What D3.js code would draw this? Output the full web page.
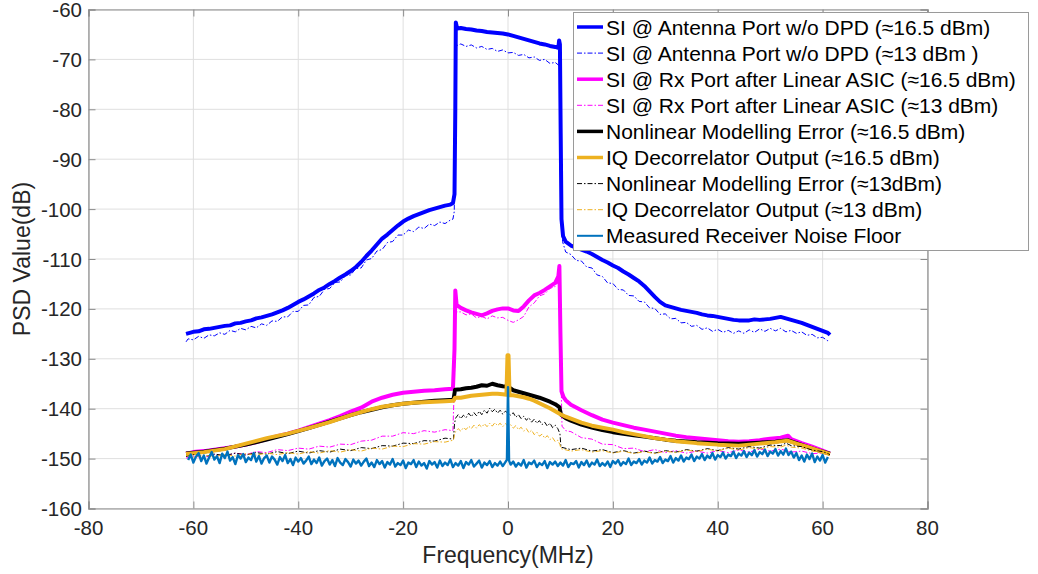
<!DOCTYPE html>
<html>
<head>
<meta charset="utf-8">
<script src="https://cdn.jsdelivr.net/npm/d3@7"></script>
<style>
  html, body { margin: 0; padding: 0; background: #ffffff; }
  svg { display: block; font-family: "Liberation Sans", Arial, Helvetica, sans-serif; }
</style>
</head>
<body>
<svg id="chart" width="1038" height="574"></svg>
<script>
// Axis ticks
const X_TICKS = [-80, -60, -40, -20, 0, 20, 40, 60, 80];
const Y_TICKS = [-160, -150, -140, -130, -120, -110, -100, -90, -80, -70, -60];

// Legend labels (plot order)
const LABELS = [
  "SI @ Antenna Port w/o DPD (\u224816.5 dBm)",
  "SI @ Antenna Port w/o DPD (\u224813 dBm )",
  "SI @ Rx Port after Linear ASIC (\u224816.5 dBm)",
  "SI @ Rx Port after Linear ASIC (\u224813 dBm)",
  "Nonlinear Modelling Error (\u224816.5 dBm)",
  "IQ Decorrelator Output (\u224816.5 dBm)",
  "Nonlinear Modelling Error (\u224813dBm)",
  "IQ Decorrelator Output (\u224813 dBm)",
  "Measured Receiver Noise Floor"
];

// PSD traces: [frequency MHz, PSD dB]
const siAnt165 = [[-61.4,-125.0],[-60,-124.6],[-59,-124.5],[-58,-124.1],[-57,-124.0],[-56,-123.8],[-55,-123.6],[-54,-123.4],[-53,-123.3],[-52,-122.9],[-51,-122.8],[-50,-122.5],[-49,-122.3],[-48,-121.9],[-47,-121.7],[-46,-121.4],[-45,-121.1],[-44,-120.7],[-43,-120.3],[-42,-119.8],[-41,-119.2],[-40,-118.6],[-39,-118.1],[-38,-117.5],[-37,-116.9],[-36,-116.2],[-35,-115.7],[-34,-115.0],[-33,-114.4],[-32,-113.7],[-31,-113.1],[-30,-112.4],[-29,-111.6],[-28,-110.6],[-27,-109.4],[-26,-108.3],[-25,-107.1],[-24,-105.9],[-23,-105.1],[-22,-104.2],[-21,-103.3],[-20,-102.5],[-19,-101.9],[-18,-101.4],[-17,-101.0],[-16,-100.6],[-15,-100.2],[-14,-99.9],[-13,-99.6],[-12,-99.3],[-11,-99.1],[-10.5,-98.8],[-10.2,-97.0],[-10.05,-80.0],[-9.95,-62.6],[-9.7,-63.8],[-9,-63.7],[-8,-63.9],[-7,-64.0],[-6,-64.2],[-5,-64.3],[-4,-64.5],[-3,-64.6],[-2,-64.7],[-1,-64.8],[0,-65.0],[1,-65.3],[2,-65.6],[3,-65.9],[4,-66.2],[5,-66.5],[6,-66.8],[7,-67.0],[8,-67.3],[9,-67.5],[9.6,-67.7],[9.75,-66.2],[9.9,-67.0],[10.05,-85.0],[10.2,-102.0],[10.5,-105.4],[11,-106.5],[12,-107.3],[13,-107.7],[14,-108.1],[15,-108.5],[16,-109.0],[17,-109.6],[18,-110.2],[19,-110.7],[20,-111.3],[21,-111.8],[22,-112.5],[23,-113.1],[24,-113.8],[25,-114.5],[26,-115.4],[27,-116.5],[28,-117.6],[29,-118.6],[30,-119.3],[31,-119.6],[32,-119.9],[33,-120.2],[34,-120.4],[35,-120.6],[36,-120.8],[37,-121.1],[38,-121.3],[39,-121.4],[40,-121.6],[41,-121.8],[42,-122.0],[43,-122.2],[44,-122.3],[45,-122.3],[46,-122.3],[47,-122.1],[48,-122.2],[49,-122.1],[50,-122.0],[51,-121.8],[52,-121.6],[53,-121.9],[54,-122.2],[55,-122.5],[56,-122.8],[57,-123.2],[58,-123.6],[59,-124.0],[60,-124.4],[61,-124.8],[61.4,-125.2]];

const siAnt13 = [[-61.4,-126.6],[-61,-126.0],[-60,-126.2],[-59,-125.5],[-58,-125.9],[-57,-125.2],[-56,-125.4],[-55,-124.8],[-54,-125.1],[-53,-124.3],[-52,-124.6],[-51,-123.9],[-50,-124.2],[-49,-123.5],[-48,-123.8],[-47,-123.0],[-46,-123.3],[-45,-122.4],[-44,-122.5],[-43,-121.6],[-42,-121.6],[-41,-120.5],[-40,-120.5],[-39,-119.3],[-38,-119.2],[-37,-117.7],[-36,-117.5],[-35,-116.1],[-34,-115.9],[-33,-114.7],[-32,-114.6],[-31,-113.3],[-30,-113.2],[-29,-111.9],[-28,-111.8],[-27,-110.2],[-26,-109.9],[-25,-108.4],[-24,-108.1],[-23,-106.7],[-22,-106.5],[-21,-105.2],[-20,-105.2],[-19,-104.2],[-18,-104.5],[-17,-103.6],[-16,-103.9],[-15,-103.0],[-14,-103.3],[-13,-102.6],[-12,-102.9],[-11,-102.2],[-10.5,-102.0],[-10.25,-100.5],[-10.1,-84.0],[-9.95,-67.3],[-9,-66.9],[-8,-67.4],[-7,-67.1],[-6,-67.7],[-5,-67.4],[-4,-68.0],[-3,-67.8],[-2,-68.4],[-1,-68.1],[0,-68.7],[1,-68.6],[2,-69.2],[3,-69.0],[4,-69.7],[5,-69.5],[6,-70.2],[7,-70.0],[8,-70.8],[9,-70.6],[9.8,-71.3],[10.1,-90.0],[10.4,-106.5],[11,-108.6],[12,-109.1],[13,-110.3],[14,-110.4],[15,-111.6],[16,-111.8],[17,-113.2],[18,-113.5],[19,-114.8],[20,-114.9],[21,-116.1],[22,-116.2],[23,-117.3],[24,-117.4],[25,-118.5],[26,-118.6],[27,-119.8],[28,-119.9],[29,-121.1],[30,-121.0],[31,-122.0],[32,-121.9],[33,-122.8],[34,-122.7],[35,-123.5],[36,-123.3],[37,-124.1],[38,-123.8],[39,-124.5],[40,-124.1],[41,-124.7],[42,-124.3],[43,-124.9],[44,-124.4],[45,-124.9],[46,-124.2],[47,-124.7],[48,-124.0],[49,-124.5],[50,-123.9],[51,-124.4],[52,-123.9],[53,-124.6],[54,-124.3],[55,-124.9],[56,-124.6],[57,-125.3],[58,-125.1],[59,-125.8],[60,-125.7],[61,-126.4],[61.4,-126.3]];

const siRx165 = [[-61.4,-149.0],[-60,-148.7],[-58,-148.5],[-56,-148.2],[-54,-147.9],[-52,-147.6],[-50,-147.2],[-48,-146.7],[-46,-146.1],[-44,-145.5],[-42,-145.0],[-40,-144.4],[-38,-143.7],[-36,-143.0],[-34,-142.3],[-32,-141.5],[-30,-140.6],[-28,-139.8],[-26,-138.6],[-24,-137.8],[-22,-137.2],[-20,-136.8],[-18,-136.6],[-16,-136.4],[-14,-136.3],[-12,-136.1],[-10.5,-136.0],[-10.2,-128.0],[-10.05,-116.3],[-9.8,-119.2],[-9,-119.8],[-8,-120.3],[-7,-120.7],[-6,-121.0],[-5,-121.3],[-4,-120.9],[-3,-120.4],[-2,-120.1],[-1,-119.9],[0,-119.9],[1,-120.3],[2,-120.4],[3,-119.5],[4,-118.3],[5,-117.3],[6,-116.8],[7,-116.2],[8,-115.5],[9,-114.8],[9.6,-113.5],[9.8,-111.4],[10.0,-125.0],[10.2,-136.5],[10.6,-137.7],[11,-138.3],[12,-139.2],[14,-140.3],[16,-141.3],[18,-142.2],[20,-142.8],[22,-143.3],[24,-143.8],[26,-144.2],[28,-144.6],[30,-145.0],[32,-145.4],[34,-145.7],[36,-145.9],[38,-146.1],[40,-146.3],[42,-146.5],[44,-146.6],[46,-146.5],[48,-146.3],[50,-146.0],[52,-145.8],[53.4,-145.4],[54,-146.1],[56,-146.9],[58,-147.6],[60,-148.4],[61.4,-149.0]];

const siRx13 = [[-61.4,-149.9],[-60,-149.5],[-58,-149.8],[-56,-149.2],[-54,-149.5],[-52,-148.9],[-50,-149.2],[-48,-148.6],[-46,-148.8],[-44,-148.2],[-42,-148.4],[-40,-147.9],[-38,-148.1],[-36,-147.5],[-34,-147.7],[-32,-147.1],[-30,-147.2],[-28,-146.5],[-26,-146.3],[-24,-145.5],[-22,-145.5],[-20,-144.8],[-18,-145.0],[-16,-144.4],[-14,-144.7],[-12,-144.2],[-10.5,-144.4],[-10.2,-134.0],[-10.05,-119.5],[-9.8,-120.6],[-9,-120.6],[-8,-121.2],[-7,-121.0],[-6,-121.8],[-5,-121.5],[-4,-122.0],[-3,-121.4],[-2,-121.8],[-1,-121.7],[0,-122.3],[1,-122.7],[2,-122.2],[3,-121.5],[4,-119.6],[5,-118.8],[6,-117.4],[7,-117.0],[8,-115.9],[9,-115.5],[9.8,-114.5],[10.0,-128.0],[10.3,-143.5],[11,-144.4],[12,-144.6],[14,-145.8],[16,-146.1],[18,-147.1],[20,-147.2],[22,-148.0],[24,-147.9],[26,-148.6],[28,-148.2],[30,-148.8],[32,-148.4],[34,-148.9],[36,-148.5],[38,-148.9],[40,-148.4],[42,-148.8],[44,-148.3],[46,-148.7],[48,-148.1],[50,-148.5],[52,-148.1],[54,-148.7],[56,-148.5],[58,-149.0],[60,-148.9],[61.4,-149.3]];

const nlErr165 = [[-61.4,-149.0],[-58,-148.6],[-54,-148.0],[-50,-147.2],[-46,-146.2],[-42,-145.1],[-38,-143.9],[-34,-142.6],[-30,-141.3],[-28,-140.7],[-26,-140.2],[-24,-139.7],[-22,-139.3],[-20,-139.0],[-18,-138.8],[-16,-138.6],[-14,-138.4],[-12,-138.3],[-10.4,-138.2],[-10.1,-136.2],[-9,-136.1],[-8,-135.9],[-7,-135.8],[-6,-135.6],[-5,-135.3],[-4,-135.4],[-3,-135.0],[-2,-135.3],[-1,-135.5],[0,-135.6],[1,-136.3],[2,-136.6],[3,-136.9],[4,-137.2],[5,-137.5],[6,-137.8],[7,-138.2],[8,-138.6],[9,-139.1],[9.8,-139.7],[10.1,-141.2],[11,-141.9],[12,-142.4],[14,-143.2],[16,-143.8],[18,-144.3],[20,-144.7],[22,-145.0],[24,-145.3],[26,-145.6],[28,-145.9],[30,-146.2],[32,-146.4],[36,-146.7],[40,-146.9],[44,-147.0],[48,-146.8],[51,-146.6],[53.3,-146.3],[55,-146.9],[57,-147.6],[59,-148.3],[61.4,-149.0]];

const iqOut165 = [[-61.4,-149.1],[-58,-148.7],[-54,-148.1],[-50,-147.0],[-46,-145.9],[-42,-145.0],[-38,-143.9],[-34,-142.7],[-30,-141.3],[-28,-140.7],[-26,-140.1],[-24,-139.6],[-22,-139.3],[-20,-139.0],[-18,-138.8],[-16,-138.7],[-14,-138.6],[-12,-138.5],[-10.4,-138.4],[-10.1,-137.8],[-9,-137.8],[-8,-137.6],[-7,-137.4],[-6,-137.3],[-5,-137.2],[-4,-137.1],[-3,-137.0],[-2,-137.0],[-1,-137.1],[-0.3,-137.2],[-0.1,-129.3],[0.1,-129.3],[0.3,-137.3],[1,-137.3],[2,-137.5],[3,-137.7],[4,-138.0],[5,-138.4],[6,-138.9],[7,-139.4],[8,-139.9],[9,-140.5],[10,-141.1],[11,-141.6],[12,-142.0],[14,-142.8],[16,-143.4],[18,-143.8],[20,-144.2],[22,-144.7],[24,-145.1],[26,-145.5],[28,-145.9],[30,-146.2],[32,-146.5],[36,-146.9],[40,-147.2],[44,-147.4],[48,-147.0],[51,-146.7],[53.3,-146.4],[55,-147.0],[57,-147.6],[59,-148.3],[61.4,-149.1]];

const nlErr13 = [[-61.4,-149.6],[-60,-149.2],[-58,-149.6],[-56,-149.1],[-54,-149.4],[-52,-148.9],[-50,-149.3],[-48,-148.8],[-46,-149.1],[-44,-148.6],[-42,-149.0],[-40,-148.5],[-38,-148.9],[-36,-148.4],[-34,-148.7],[-32,-148.1],[-30,-148.4],[-28,-147.8],[-26,-148.0],[-24,-147.4],[-22,-147.5],[-20,-146.9],[-18,-147.0],[-16,-146.4],[-14,-146.5],[-12,-145.9],[-10.4,-146.1],[-10.2,-143.0],[-10.0,-141.9],[-9.5,-141.2],[-9.0,-142.0],[-8.5,-141.3],[-8.0,-141.8],[-7.5,-140.9],[-7.0,-141.6],[-6.5,-140.8],[-6.0,-141.4],[-5.5,-140.5],[-5.0,-141.2],[-4.5,-140.3],[-4.0,-140.9],[-3.5,-139.9],[-3.0,-140.6],[-2.5,-140.1],[-2.0,-140.9],[-1.5,-140.3],[-1.0,-141.1],[-0.5,-140.5],[0,-140.9],[0.5,-141.3],[1.0,-140.8],[1.5,-141.7],[2.0,-141.2],[2.5,-142.0],[3.0,-141.5],[3.5,-142.3],[4.0,-141.8],[4.5,-142.7],[5.0,-142.1],[5.5,-142.9],[6.0,-142.4],[6.5,-143.2],[7.0,-142.7],[7.5,-143.5],[8.0,-142.9],[8.5,-143.8],[9.0,-143.3],[9.5,-144.0],[9.9,-145.0],[10.1,-147.7],[12,-148.2],[14,-147.9],[16,-148.5],[18,-148.2],[20,-148.8],[22,-148.4],[24,-148.9],[26,-148.5],[28,-148.9],[30,-148.4],[32,-148.7],[34,-148.2],[36,-148.5],[38,-148.0],[40,-148.4],[42,-147.8],[44,-148.1],[46,-147.6],[48,-147.9],[50,-147.3],[52,-147.4],[53,-146.9],[54,-147.4],[56,-147.6],[58,-148.3],[60,-148.6],[61.4,-149.2]];

const iqOut13 = [[-61.4,-149.4],[-60,-149.7],[-58,-149.3],[-56,-149.6],[-54,-149.2],[-52,-149.5],[-50,-149.0],[-48,-149.3],[-46,-148.9],[-44,-149.2],[-42,-148.8],[-40,-149.1],[-38,-148.6],[-36,-148.9],[-34,-148.4],[-32,-148.7],[-30,-148.2],[-28,-148.5],[-26,-147.9],[-24,-148.1],[-22,-147.5],[-20,-147.6],[-18,-147.0],[-16,-147.1],[-14,-146.6],[-12,-146.7],[-10.4,-146.3],[-10.2,-145.2],[-10.0,-144.6],[-9.5,-144.0],[-9.0,-144.5],[-8.5,-143.8],[-8.0,-144.2],[-7.5,-143.5],[-7.0,-144.0],[-6.5,-143.3],[-6.0,-143.9],[-5.5,-143.2],[-5.0,-143.7],[-4.5,-143.0],[-4.0,-143.6],[-3.5,-142.9],[-3.0,-143.5],[-2.5,-142.8],[-2.0,-143.4],[-1.5,-142.9],[-1.0,-143.6],[-0.5,-143.0],[0,-143.5],[0.5,-143.2],[1.0,-143.9],[1.5,-143.4],[2.0,-144.2],[2.5,-143.7],[3.0,-144.5],[3.5,-144.0],[4.0,-144.8],[4.5,-144.3],[5.0,-145.2],[5.5,-144.7],[6.0,-145.5],[6.5,-145.1],[7.0,-145.9],[7.5,-145.4],[8.0,-146.2],[8.5,-145.8],[9.0,-146.6],[9.5,-146.3],[9.9,-147.2],[10.1,-148.0],[12,-148.5],[14,-148.2],[16,-148.7],[18,-148.4],[20,-148.9],[22,-148.5],[24,-149.0],[26,-148.6],[28,-149.0],[30,-148.5],[32,-148.8],[34,-148.3],[36,-148.6],[38,-148.1],[40,-148.5],[42,-147.9],[44,-148.3],[46,-147.8],[48,-148.1],[50,-147.6],[52,-147.7],[53,-147.3],[54,-147.7],[56,-147.9],[58,-148.5],[60,-148.8],[61.4,-149.4]];

const noiseFloor = [[-61.0,-150.3],[-60.5,-149.2],[-60.0,-150.8],[-59.5,-149.6],[-59.0,-148.9],[-58.5,-150.5],[-58.0,-149.4],[-57.5,-151.0],[-57.0,-149.8],[-56.5,-148.7],[-56.0,-150.2],[-55.5,-149.5],[-55.0,-150.9],[-54.5,-149.0],[-54.0,-149.9],[-53.5,-148.6],[-53.0,-150.4],[-52.5,-149.7],[-52.0,-151.1],[-51.5,-149.3],[-51.0,-150.0],[-50.5,-149.1],[-50.0,-150.7],[-49.5,-149.8],[-49.0,-150.3],[-48.5,-148.9],[-48.0,-150.6],[-47.5,-149.5],[-47.0,-151.0],[-46.5,-149.9],[-46.0,-149.4],[-45.5,-150.8],[-45.0,-149.6],[-44.5,-150.2],[-44.0,-151.2],[-43.5,-149.7],[-43.0,-150.5],[-42.5,-149.3],[-42.0,-150.9],[-41.5,-150.1],[-41.0,-151.3],[-40.5,-149.8],[-40.0,-150.6],[-39.5,-149.9],[-39.0,-151.0],[-38.5,-150.4],[-38.0,-149.6],[-37.5,-151.1],[-37.0,-150.2],[-36.5,-150.9],[-36.0,-149.8],[-35.5,-151.4],[-35.0,-150.5],[-34.5,-150.0],[-34.0,-151.2],[-33.5,-150.3],[-33.0,-151.5],[-32.5,-149.9],[-32.0,-150.8],[-31.5,-151.3],[-31.0,-150.1],[-30.5,-150.7],[-30.0,-151.6],[-29.5,-150.2],[-29.0,-151.0],[-28.5,-150.4],[-28.0,-151.4],[-27.5,-150.6],[-27.0,-150.0],[-26.5,-151.5],[-26.0,-150.8],[-25.5,-151.7],[-25.0,-150.3],[-24.5,-151.1],[-24.0,-150.5],[-23.5,-151.8],[-23.0,-150.7],[-22.5,-151.2],[-22.0,-150.1],[-21.5,-151.6],[-21.0,-150.9],[-20.5,-151.3],[-20.0,-150.4],[-19.5,-151.9],[-19.0,-150.8],[-18.5,-151.1],[-18.0,-150.3],[-17.5,-151.7],[-17.0,-150.6],[-16.5,-151.4],[-16.0,-150.9],[-15.5,-152.0],[-15.0,-150.5],[-14.5,-151.2],[-14.0,-150.7],[-13.5,-151.8],[-13.0,-150.4],[-12.5,-151.5],[-12.0,-150.8],[-11.5,-151.3],[-11.0,-150.2],[-10.5,-151.7],[-10.0,-150.9],[-9.5,-151.4],[-9.0,-150.5],[-8.5,-151.9],[-8.0,-150.7],[-7.5,-151.2],[-7.0,-150.3],[-6.5,-151.6],[-6.0,-151.0],[-5.5,-150.4],[-5.0,-151.8],[-4.5,-150.8],[-4.0,-151.3],[-3.5,-150.5],[-3.0,-151.7],[-2.5,-150.9],[-2.0,-151.4],[-1.5,-150.6],[-1.0,-151.5],[-0.5,-150.7],[-0.2,-150.2],[0,-135.7],[0.2,-150.4],[0.5,-151.2],[1.0,-150.6],[1.5,-151.6],[2.0,-150.9],[2.5,-151.4],[3.0,-150.3],[3.5,-151.8],[4.0,-150.8],[4.5,-151.1],[5.0,-150.4],[5.5,-151.7],[6.0,-150.9],[6.5,-151.3],[7.0,-150.5],[7.5,-151.9],[8.0,-150.7],[8.5,-151.2],[9.0,-150.6],[9.5,-151.5],[10.0,-150.8],[10.5,-151.4],[11.0,-150.3],[11.5,-151.7],[12.0,-150.9],[12.5,-151.1],[13.0,-150.5],[13.5,-151.8],[14.0,-150.7],[14.5,-151.3],[15.0,-150.4],[15.5,-151.6],[16.0,-150.8],[16.5,-151.2],[17.0,-150.2],[17.5,-151.5],[18.0,-150.9],[18.5,-151.4],[19.0,-150.6],[19.5,-151.7],[20.0,-150.5],[20.5,-151.0],[21.0,-150.3],[21.5,-151.4],[22.0,-150.7],[22.5,-151.1],[23.0,-150.0],[23.5,-151.3],[24.0,-150.6],[24.5,-150.9],[25.0,-150.1],[25.5,-151.2],[26.0,-150.4],[26.5,-150.8],[27.0,-149.8],[27.5,-151.0],[28.0,-150.3],[28.5,-150.6],[29.0,-149.7],[29.5,-150.9],[30.0,-150.2],[30.5,-150.5],[31.0,-149.5],[31.5,-150.8],[32.0,-149.9],[32.5,-150.4],[33.0,-149.4],[33.5,-150.6],[34.0,-149.8],[34.5,-150.1],[35.0,-149.2],[35.5,-150.5],[36.0,-149.6],[36.5,-150.0],[37.0,-149.1],[37.5,-150.3],[38.0,-149.4],[38.5,-149.9],[39.0,-148.9],[39.5,-150.2],[40.0,-149.3],[40.5,-149.7],[41.0,-148.8],[41.5,-150.0],[42.0,-149.2],[42.5,-149.5],[43.0,-148.6],[43.5,-149.9],[44.0,-149.0],[44.5,-149.4],[45.0,-148.5],[45.5,-149.7],[46.0,-148.8],[46.5,-149.3],[47.0,-148.3],[47.5,-149.6],[48.0,-148.7],[48.5,-149.1],[49.0,-148.2],[49.5,-149.5],[50.0,-148.6],[50.5,-149.0],[51.0,-148.1],[51.5,-149.4],[52.0,-148.5],[52.5,-149.2],[53.0,-148.0],[53.5,-149.3],[54.0,-148.6],[54.5,-149.8],[55.0,-148.9],[55.5,-150.3],[56.0,-149.4],[56.5,-150.6],[57.0,-149.2],[57.5,-150.1],[58.0,-149.0],[58.5,-150.7],[59.0,-149.6],[59.5,-150.4],[60.0,-149.3],[60.5,-150.8],[61.0,-149.7]];

// Styling per trace, in plot order
const SERIES = [
  { data: siAnt165,  color: "#0000ff", width: 4,   dash: null },
  { data: siAnt13,   color: "#0000ff", width: 1,   dash: "5,2,1.5,2" },
  { data: siRx165,   color: "#ff00ff", width: 4,   dash: null },
  { data: siRx13,    color: "#ff00ff", width: 1,   dash: "5,2,1.5,2" },
  { data: nlErr165,  color: "#000000", width: 4,   dash: null },
  { data: iqOut165,  color: "#edb120", width: 4,   dash: null },
  { data: nlErr13,   color: "#000000", width: 1,   dash: "5,2,1.5,2" },
  { data: iqOut13,   color: "#edb120", width: 1,   dash: "5,2,1.5,2" },
  { data: noiseFloor,color: "#0072bd", width: 2.4, dash: null }
];

const svg = d3.select("#chart");
const L = 88.5, R = 927.5, T = 9.5, B = 508.5;

const x = d3.scaleLinear().domain([-80, 80]).range([L, R]);
const y = d3.scaleLinear().domain([-160, -60]).range([B, T]);

// Grid
const grid = svg.append("g");
grid.selectAll("line.gx").data(X_TICKS).join("line")
  .attr("x1", d => x(d)).attr("x2", d => x(d)).attr("y1", T).attr("y2", B)
  .attr("stroke", "#dfdfdf").attr("stroke-width", 1);
grid.selectAll("line.gy").data(Y_TICKS).join("line")
  .attr("x1", L).attr("x2", R).attr("y1", d => y(d)).attr("y2", d => y(d))
  .attr("stroke", "#dfdfdf").attr("stroke-width", 1);

// Traces
svg.append("clipPath").attr("id", "plotclip")
  .append("rect").attr("x", L).attr("y", T).attr("width", R - L).attr("height", B - T);

const line = d3.line().x(d => x(d[0])).y(d => y(d[1]));
const traces = svg.append("g").attr("clip-path", "url(#plotclip)");
SERIES.forEach(s => {
  traces.append("path")
    .attr("d", line(s.data))
    .attr("fill", "none")
    .attr("stroke", s.color)
    .attr("stroke-width", s.width)
    .attr("stroke-linejoin", "round")
    .attr("stroke-dasharray", s.dash);
});

// Axes with inward ticks on all four sides
const tickLen = 7;
const axisColor = "#8c8c8c";
const axes = svg.append("g");
axes.append("g").attr("transform", `translate(0,${B})`)
  .call(d3.axisBottom(x).tickValues(X_TICKS).tickSize(-tickLen).tickFormat(""));
axes.append("g").attr("transform", `translate(0,${T})`)
  .call(d3.axisTop(x).tickValues(X_TICKS).tickSize(-tickLen).tickFormat(""));
axes.append("g").attr("transform", `translate(${L},0)`)
  .call(d3.axisLeft(y).tickValues(Y_TICKS).tickSize(-tickLen).tickFormat(""));
axes.append("g").attr("transform", `translate(${R},0)`)
  .call(d3.axisRight(y).tickValues(Y_TICKS).tickSize(-tickLen).tickFormat(""));
axes.selectAll("path.domain").attr("stroke", axisColor).attr("stroke-width", 1.2);
axes.selectAll(".tick line").attr("stroke", axisColor);

// Tick labels
const lab = svg.append("g").attr("fill", "#262626").attr("font-size", 20.5);
lab.selectAll("text.xl").data(X_TICKS).join("text")
  .attr("x", d => x(d)).attr("y", 535).attr("text-anchor", "middle").text(d => d);
lab.selectAll("text.yl").data(Y_TICKS).join("text")
  .attr("x", 82).attr("y", d => y(d) + 7.5).attr("text-anchor", "end").text(d => d);

// Axis titles
svg.append("text").attr("x", (L + R) / 2).attr("y", 563).attr("text-anchor", "middle")
  .attr("font-size", 23).attr("fill", "#262626").text("Frequency(MHz)");
svg.append("text").attr("transform", `translate(30,${(T + B) / 2}) rotate(-90)`)
  .attr("text-anchor", "middle").attr("font-size", 23).attr("fill", "#262626")
  .text("PSD Value(dB)");

// Legend
const lg = svg.append("g");
lg.append("rect").attr("x", 573.5).attr("y", 12.5).attr("width", 455).attr("height", 238)
  .attr("fill", "#ffffff").attr("stroke", "#9a9a9a").attr("stroke-width", 1);
SERIES.forEach((s, i) => {
  const cy = 27 + i * 26.1;
  lg.append("line").attr("x1", 577).attr("x2", 603).attr("y1", cy).attr("y2", cy)
    .attr("stroke", s.color).attr("stroke-width", s.width === 4 ? 3.5 : (s.width > 2 ? 2 : 1))
    .attr("stroke-dasharray", s.dash);
  lg.append("text").attr("x", 606).attr("y", cy + 7.5).attr("font-size", 21)
    .attr("fill", "#000000").text(LABELS[i]);
});
</script>
</body>
</html>
